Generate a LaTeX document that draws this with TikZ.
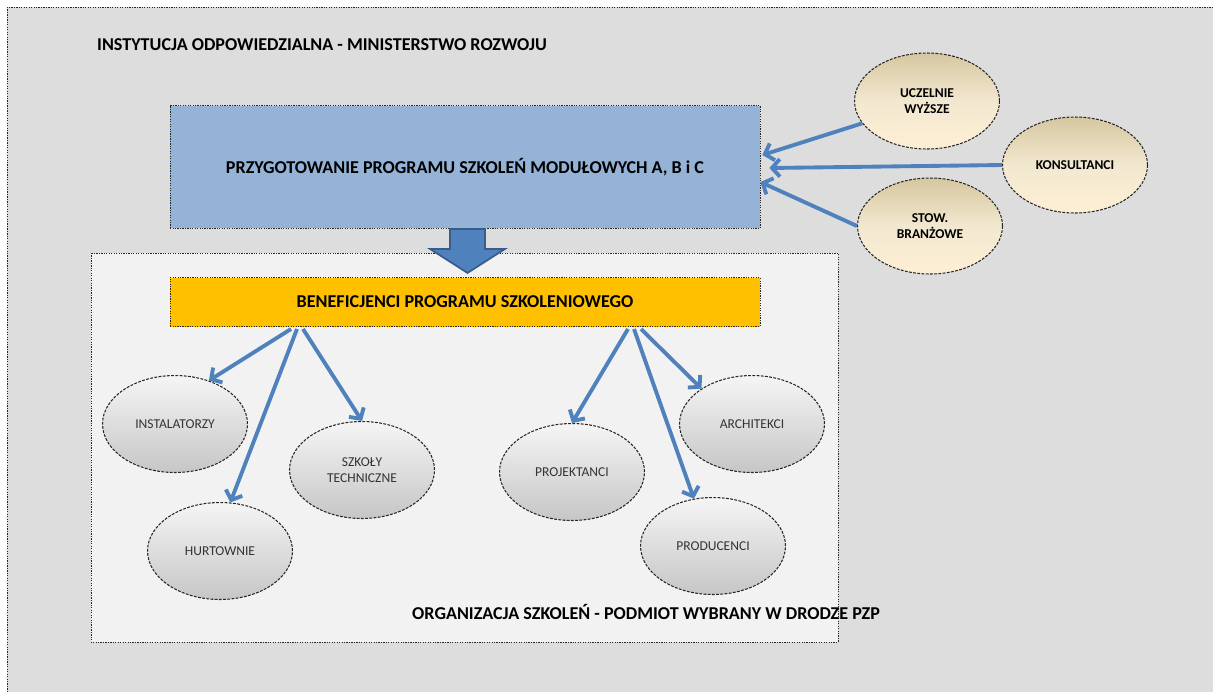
\documentclass[tikz,border=0pt]{standalone}
\usepackage{fontspec}
\setmainfont{Carlito}
\usetikzlibrary{arrows.meta, shapes.geometric}

\definecolor{panelgray}{RGB}{221,221,221}
\definecolor{innergray}{RGB}{242,242,242}
\definecolor{boxblue}{RGB}{149,179,215}
\definecolor{boxyellow}{RGB}{255,192,0}
\definecolor{linkblue}{RGB}{79,129,189}
\definecolor{linkedge}{RGB}{56,93,138}
\definecolor{tantop}{RGB}{214,199,160}
\definecolor{tanmid}{RGB}{242,232,208}
\definecolor{tanbottom}{RGB}{253,239,213}
\definecolor{ovaltop}{RGB}{245,245,245}
\definecolor{ovalbottom}{RGB}{198,198,198}

\tikzset{
	dotline/.style={draw=black!85, line width=0.5pt, dash pattern=on 0.7pt off 0.7pt},
	ovalline/.style={draw=black!85, line width=0.6pt, dash pattern=on 1.6pt off 0.8pt},
	boldtext/.style={font=\fontsize{10.3}{12}\selectfont\bfseries},
	tanoval/.style={ellipse, ovalline, top color=tantop, bottom color=tanbottom, middle color=tanmid, minimum width=2.9cm, minimum height=1.92cm, align=center, font=\fontsize{7.7}{9.2}\selectfont\bfseries},
	grayoval/.style={ellipse, ovalline, top color=ovaltop, bottom color=ovalbottom, minimum width=2.9cm, minimum height=1.94cm, align=center, text=black!80, font=\fontsize{7.7}{9.2}\selectfont},
	link/.style={draw=linkblue, line width=2.2pt, -{Straight Barb[length=4.5pt,width=10pt]}},
	bigarrow/.style={fill=linkblue, draw=linkedge, line width=1pt, line join=miter},
}

\begin{document}
\begin{tikzpicture}[x=0.02cm, y=-0.02cm]
	\clip (0,0) rectangle (1213,691);
	\fill[white] (0,0) rectangle (1213,691);
	\draw[dotline, fill=panelgray] (7,7) rectangle (1240,720);
	\node[boldtext, anchor=west] (ministry) at (91,45) {INSTYTUCJA ODPOWIEDZIALNA - MINISTERSTWO ROZWOJU};
	\node[dotline, fill=boxblue, minimum width=11.8cm, minimum height=2.46cm, boldtext] (prep) at (465,167) {PRZYGOTOWANIE PROGRAMU SZKOLEŃ MODUŁOWYCH A, B i C};

	\node[tanoval] (ucz) at (927,101) {UCZELNIE\\WYŻSZE};
	\node[tanoval] (kons) at (1075,165) {KONSULTANCI};
	\node[tanoval] (stow) at (930,226) {STOW.\\BRANŻOWE};
	\draw[link] (ucz.199) -- ([xshift=0.04cm, yshift=0.24cm]prep.east);
	\draw[link] (kons.west) -- ([xshift=0.18cm, yshift=-0.02cm]prep.east);
	\draw[link] (stow.west) -- ([yshift=-0.30cm]prep.east);

	\draw[dotline, fill=innergray] (91,253) rectangle (838,642);
	\node[dotline, fill=boxyellow, minimum width=11.8cm, minimum height=0.98cm, boldtext] (benef) at (465,302) {BENEFICJENCI PROGRAMU SZKOLENIOWEGO};
	\draw[bigarrow] ([xshift=-0.3cm]prep.south) -- ++(0,-0.4cm) -- ++(-0.4cm,0) -- ++(0.75cm,-0.48cm) -- ++(0.75cm,0.48cm) -- ++(-0.4cm,0) -- ++(0,0.4cm) -- cycle;

	\foreach \name/\xx/\yy/\txt in {inst/175/424/INSTALATORZY, hurt/220/551/HURTOWNIE, szk/362/470/{SZKOŁY\\TECHNICZNE}, proj/572/472/PROJEKTANCI, arch/752/424/ARCHITEKCI, prod/713/546/PRODUCENCI} {
		\node[grayoval] (\name) at (\xx,\yy) {\txt};
	}
	\coordinate (fanA) at (291,329);
	\coordinate (fanB) at (297,329);
	\coordinate (fanC) at (303,329);
	\coordinate (fanD) at (628,329);
	\coordinate (fanE) at (634,329);
	\coordinate (fanF) at (641,329);
	\draw[link] (fanA) -- (inst.52);
	\draw[link] (fanB) -- (hurt.78);
	\draw[link] (fanC) -- (szk.north);
	\draw[link] (fanD) -- (proj.north);
	\draw[link] (fanE) -- (prod.112);
	\draw[link] (fanF) -- (arch.145);

	\node[boldtext, anchor=west] (org) at (406,612) {ORGANIZACJA SZKOLEŃ - PODMIOT WYBRANY W DRODZE PZP};
\end{tikzpicture}
\end{document}
